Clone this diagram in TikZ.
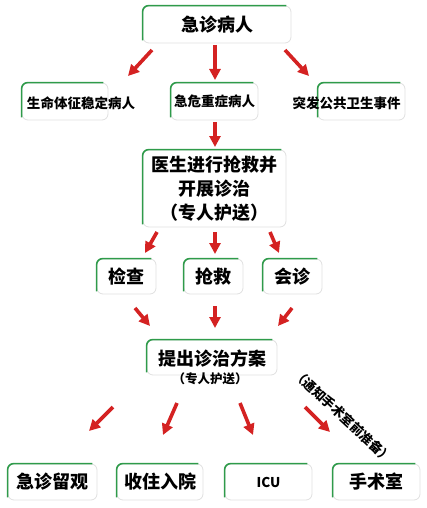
\documentclass[tikz,border=0pt]{standalone}
\usepackage{fontspec}
\setmainfont{Noto Sans CJK SC}
\usepackage{tikz}
\usetikzlibrary{arrows.meta,positioning,calc}
\definecolor{boxgreen}{HTML}{2E9B4A}
\definecolor{arrowred}{HTML}{D42222}

\tikzset{
  box/.style={draw=black!12, line width=0.8pt, rounded corners=6pt, fill=white, inner sep=0pt, align=center},
  greenedge/.style={draw=boxgreen, line width=1.6pt, rounded corners=6pt},
  redarrow/.style={draw=arrowred, line width=3.6pt, -{Triangle[width=11pt,length=11pt]}},
  big/.style={font=\bfseries\fontsize{18}{24}\selectfont},
  small/.style={font=\bfseries\fontsize{13.5}{16}\selectfont},
}

\begin{document}
\begin{tikzpicture}[x=1pt, y=-1pt]
    \useasboundingbox (0,0) rectangle (427,508);

    % Top
    \node[box, big, minimum width=148, minimum height=37] (top) at (217,24.5) {急诊病人};

    % Second row
    \node[box, minimum width=86, minimum height=37] (stable) at (65,101.5) {};
    \node[box, small, minimum width=87, minimum height=37] (critical) at (214.5,101.5) {急危重症病人};
    \node[box, minimum width=87, minimum height=37] (public) at (361.5,101.5) {};

    % Rescue
    \node[box, big, minimum width=143, minimum height=77] (rescue) at (214.5,188.5)
        {医生进行抢救并\\开展诊治\\（专人护送）};

    % Third row
    \node[box, big, minimum width=59, minimum height=35] (check) at (126.5,276.5) {检查};
    \node[box, big, minimum width=59, minimum height=35] (save) at (213.5,276.5) {抢救};
    \node[box, big, minimum width=59, minimum height=35] (consult) at (292.5,276.5) {会诊};

    % Plan
    \node[box, minimum width=130, minimum height=35] (plan) at (212,357.5) {};

    % Bottom row
    \node[box, big, minimum width=89, minimum height=36] (observe) at (52.5,482) {急诊留观};
    \node[box, big, minimum width=86, minimum height=36] (admit) at (160,482) {收住入院};
    \node[box, small, minimum width=87, minimum height=36] (icu) at (268.5,482) {ICU};
    \node[box, big, minimum width=87, minimum height=36] (surgery) at (376.5,482) {手术室};

    % Green top-left edges
    \foreach \n in {top,stable,critical,public,rescue,check,save,consult,plan,observe,admit,icu,surgery}
        \draw[greenedge] ([yshift=3pt]\n.south west) -- (\n.north west) -- ([xshift=-5pt]\n.north east);

    % Texts running over the boxes
    \node[small] (stabletext) at (81,103) {生命体征稳定病人};
    \node[small] (publictext) at (346.5,103) {突发公共卫生事件};
    \node[big] (plantext) at (212,359) {提出诊治方案};
    \node[font=\bfseries\fontsize{12.5}{14}\selectfont] (escort) at (210,379) {（专人护送）};
    \node[font=\bfseries\fontsize{13}{14}\selectfont, rotate=-43] (notice) at (343,416) {（通知手术室前准备）};

    % Arrow ends
    \coordinate (s1) at (152,50);  \coordinate (e1) at (128,76);
    \coordinate (s2) at (215,45);  \coordinate (e2) at (215,80);
    \coordinate (s3) at (285,50);  \coordinate (e3) at (309,76);
    \coordinate (s4) at (215,122); \coordinate (e4) at (215,147);
    \coordinate (s5) at (157,232); \coordinate (e5) at (145,253);
    \coordinate (s6) at (215,232); \coordinate (e6) at (215,254);
    \coordinate (s7) at (270,232); \coordinate (e7) at (279,253);
    \coordinate (s8) at (135,308); \coordinate (e8) at (150,326);
    \coordinate (s9) at (215,306); \coordinate (e9) at (215,328);
    \coordinate (s10) at (292,308); \coordinate (e10) at (278,326);
    \coordinate (s11) at (113,407); \coordinate (e11) at (89,431);
    \coordinate (s12) at (177,403); \coordinate (e12) at (163,435);
    \coordinate (s13) at (240,403); \coordinate (e13) at (253,435);
    \coordinate (s14) at (305,407); \coordinate (e14) at (330,432);

    % Arrows
    \foreach \i in {1,...,14}
        \draw[redarrow] (s\i) -- (e\i);
\end{tikzpicture}
\end{document}
